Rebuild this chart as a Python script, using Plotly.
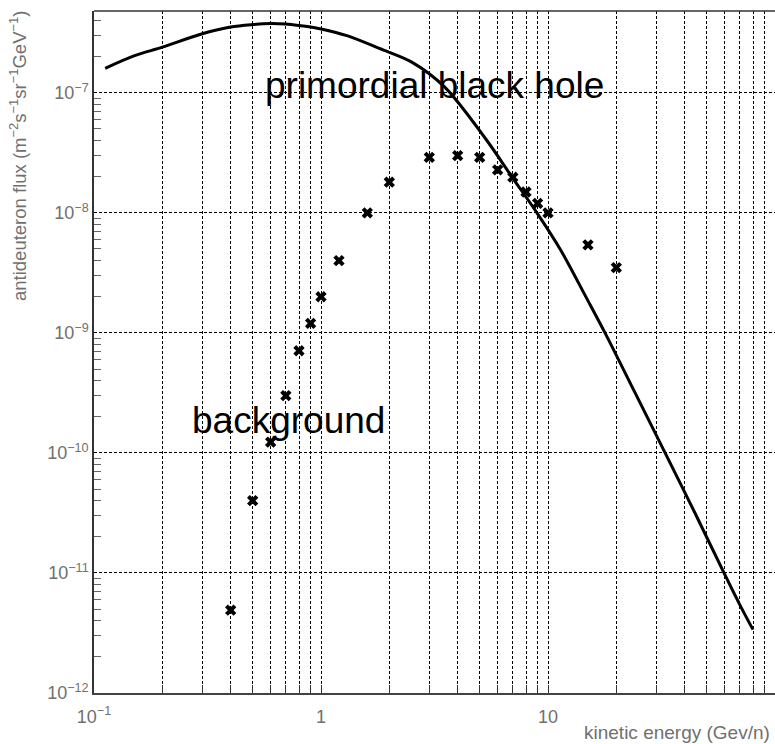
import numpy as np
import plotly.graph_objects as go

# Background antideuteron flux (data points)
bg_energy = [0.4, 0.5, 0.6, 0.7, 0.8, 0.9, 1.0, 1.2, 1.6, 2.0, 3.0, 4.0, 5.0,
             6.0, 7.0, 8.0, 9.0, 10.0, 15.0, 20.0]
bg_flux = [4.9e-12, 4.0e-11, 1.23e-10, 3.0e-10, 7.1e-10, 1.2e-9, 2.0e-9, 4.0e-9,
           1.0e-8, 1.8e-8, 2.9e-8, 3.0e-8, 2.9e-8, 2.28e-8, 1.98e-8, 1.49e-8,
           1.2e-8, 1.0e-8, 5.4e-9, 3.5e-9]

# Primordial black hole prediction (curve)
pbh_energy = [0.112, 0.15, 0.2, 0.3, 0.4, 0.5, 0.6, 0.7, 0.8, 0.9, 1.0, 1.3, 1.82,
              2.5, 3.5, 5.33, 7.03, 8.94, 11.3, 14.85, 17.83, 24.2, 32.8, 44.4,
              59.6, 70.1, 80.0]
pbh_flux = [1.6e-7, 2.03e-7, 2.4e-7, 3.1e-7, 3.53e-7, 3.7e-7, 3.78e-7, 3.74e-7,
            3.64e-7, 3.53e-7, 3.4e-7, 2.99e-7, 2.33e-7, 1.81e-7, 1.12e-7, 4.1e-8,
            1.92e-8, 1.0e-8, 5.0e-9, 1.92e-9, 1.0e-9, 3.16e-10, 1.0e-10, 3.16e-11,
            1.0e-11, 5.4e-12, 3.37e-12]

# Axis ticks
x_decades = [0.1, 1, 10, 100]
x_decade_labels = ["10<sup>\u22121</sup>", "1", "10", ""]
y_decades = [1e-12, 1e-11, 1e-10, 1e-9, 1e-8, 1e-7]
y_decade_labels = ["10<sup>\u221212</sup>", "10<sup>\u221211</sup>", "10<sup>\u221210</sup>",
                   "10<sup>\u22129</sup>", "10<sup>\u22128</sup>", "10<sup>\u22127</sup>"]

x_all = []
x_text = []
for d, lab in zip(x_decades[:-1], x_decade_labels[:-1]):
    for k in range(1, 10):
        x_all.append(d * k)
        x_text.append(lab if k == 1 else "")
x_all.append(100)
x_text.append("")

y_minor = [d * k for d in y_decades[:-1] for k in range(2, 10)] + [1e-7 * k for k in range(2, 5)]

fig = go.Figure()
fig.add_trace(go.Scatter(x=pbh_energy, y=pbh_flux, mode="lines",
                         line=dict(color="black", width=3, shape="spline", smoothing=0.9),
                         showlegend=False))
fig.add_trace(go.Scatter(x=bg_energy, y=bg_flux, mode="markers",
                         marker=dict(symbol="x", size=10, color="black",
                                     line=dict(width=0)),
                         showlegend=False))

grey = "#707070"
fig.update_xaxes(type="log", range=[-1, 2], tickvals=x_all, ticktext=x_text,
                 showgrid=True, gridcolor="black", gridwidth=1, griddash="3px,2px",
                 ticks="inside", ticklen=8, tickcolor="#333", tickwidth=1,
                 ticklabelstandoff=6,
                 showline=True, linecolor="#444", linewidth=2, mirror=False,
                 zeroline=False, tickfont=dict(family="Liberation Sans", size=18, color=grey))
fig.update_yaxes(type="log", range=[-12, np.log10(4.8e-7)], tickvals=y_decades,
                 ticktext=y_decade_labels,
                 showgrid=True, gridcolor="black", gridwidth=1, griddash="3px,2px",
                 ticks="", showline=True, linecolor="#333", linewidth=1.5,
                 zeroline=False, tickfont=dict(family="Liberation Sans", size=18, color=grey),
                 minor=dict(tickvals=y_minor, ticks="inside", ticklen=7,
                            tickcolor="#666", tickwidth=1, showgrid=False))

fig.update_layout(
    width=775, height=744,
    margin=dict(l=94, r=0, t=11, b=51),
    paper_bgcolor="white", plot_bgcolor="white",
    font=dict(family="Liberation Sans"),
    shapes=[dict(type="line", xref="paper", yref="paper", x0=0, x1=1, y0=1, y1=1,
                 line=dict(color="#333", width=1.5))],
    annotations=[
        dict(text="primordial black hole", xref="paper", yref="paper", x=0.248, y=0.891,
             xanchor="left", yanchor="middle", showarrow=False,
             font=dict(size=37, color="black", family="Liberation Sans")),
        dict(text="background", xref="paper", yref="paper", x=0.141, y=0.399,
             xanchor="left", yanchor="middle", showarrow=False,
             font=dict(size=37, color="black", family="Liberation Sans")),
        dict(text="antideuteron flux (m<sup>\u22122</sup>s<sup>\u22121</sup>sr<sup>\u22121</sup>GeV<sup>\u22121</sup>)",
             xref="paper", yref="paper", x=(18 - 94) / 681, y=(693 - 156) / 682, textangle=-90,
             xanchor="center", yanchor="middle", showarrow=False,
             font=dict(size=18.5, color=grey, family="Liberation Sans")),
        dict(text="kinetic energy (Gev/n)", xref="paper", yref="paper",
             x=(772 - 94) / 681, y=-(732 - 693) / 682, xanchor="right", yanchor="middle",
             showarrow=False, font=dict(size=19, color=grey, family="Liberation Sans")),
    ],
)

fig.write_html("out.html")
